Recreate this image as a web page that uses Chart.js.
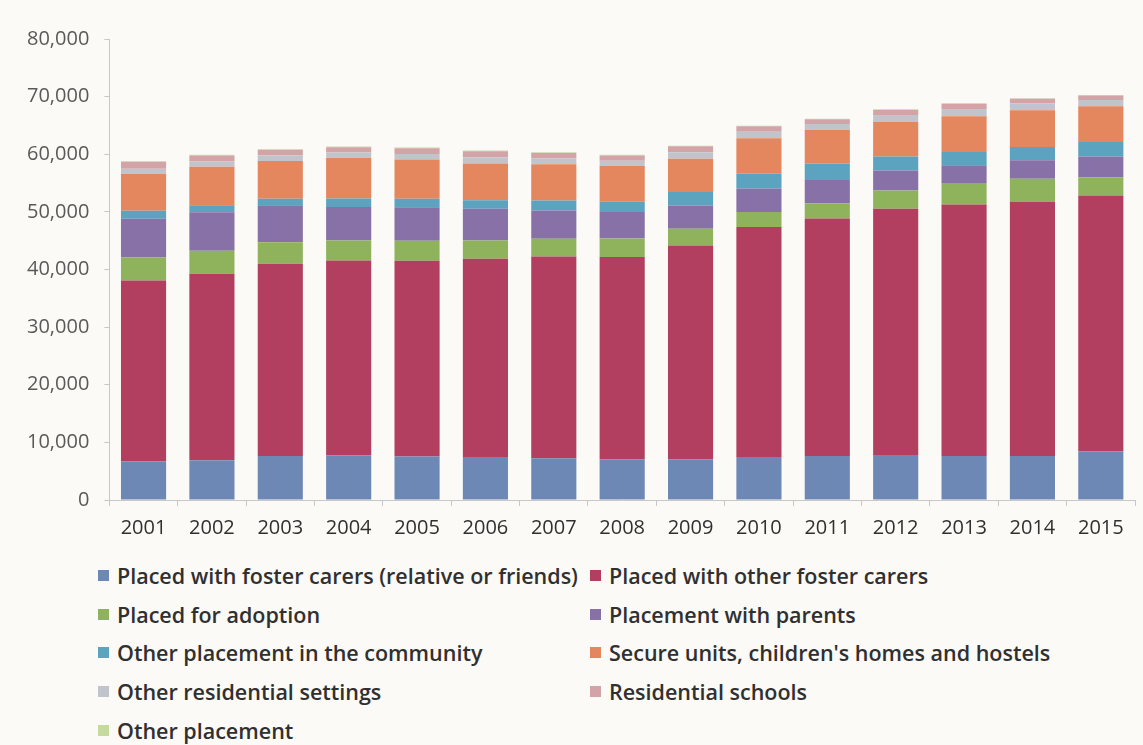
<!DOCTYPE html>
<html>
<head>
<meta charset="utf-8">
<script src="https://cdn.jsdelivr.net/npm/chart.js@4/dist/chart.umd.min.js"></script>
<style>
  body { margin: 0; background: #fbfaf6; font-family: "Open Sans", sans-serif; }
  #wrap { position: absolute; left: 0; top: 0; width: 1143px; height: 553px; }
  #legend { position: absolute; left: 98px; top: 556px; width: 1040px;
    display: grid; grid-template-columns: 492px 540px; row-gap: 0; }
  .item { height: 38.7px; display: flex; align-items: center; font-size: 21.5px;
    font-weight: 600; color: #303030; white-space: nowrap; }
  .sw { width: 11px; height: 11px; margin-right: 8px; }
</style>
</head>
<body>
<div id="wrap"><canvas id="grafico"></canvas></div>
<div id="legend"></div>
<script>
const years = ['2001','2002','2003','2004','2005','2006','2007','2008','2009','2010','2011','2012','2013','2014','2015'];

const fosterRelatives = [6700, 6900, 7650, 7770, 7530, 7480, 7250, 7070, 7070, 7480, 7650, 7830, 7650, 7650, 8400];
const fosterOther     = [31400, 32350, 33340, 33800, 34000, 34380, 35000, 35100, 37100, 39900, 41200, 42700, 43650, 44050, 44450];
const adoption        = [4000, 4000, 3760, 3480, 3480, 3190, 3080, 3200, 2900, 2610, 2610, 3180, 3600, 4070, 3180];
const withParents     = [6700, 6700, 6380, 5800, 5800, 5510, 4920, 4630, 4050, 4070, 4050, 3480, 3180, 3180, 3600];
const otherCommunity  = [1400, 1200, 1150, 1450, 1450, 1450, 1740, 1740, 2310, 2610, 2900, 2430, 2310, 2310, 2490];
const secureHomes     = [6400, 6700, 6550, 7100, 6840, 6380, 6260, 6200, 5800, 6090, 5800, 5970, 6200, 6380, 6200];
const otherResidential = [900, 900, 950, 900, 950, 1050, 1000, 950, 1100, 1150, 1050, 1200, 1250, 1150, 1100];
const residentialSchools = [1200, 1050, 1000, 930, 1000, 1100, 980, 910, 1040, 940, 810, 910, 910, 830, 760];
const otherPlacement  = [100, 100, 100, 100, 100, 100, 100, 100, 100, 100, 100, 100, 100, 100, 100];

const yTicks = [0, 10000, 20000, 30000, 40000, 50000, 60000, 70000, 80000];

const series = [
    { label: 'Placed with foster carers (relative or friends)', data: fosterRelatives, color: '#6e88b6' },
    { label: 'Placed with other foster carers', data: fosterOther, color: '#b23f5f' },
    { label: 'Placed for adoption', data: adoption, color: '#8fb35c' },
    { label: 'Placement with parents', data: withParents, color: '#8871a6' },
    { label: 'Other placement in the community', data: otherCommunity, color: '#5ba3bf' },
    { label: "Secure units, children's homes and hostels", data: secureHomes, color: '#e4865e' },
    { label: 'Other residential settings', data: otherResidential, color: '#c2c4cc' },
    { label: 'Residential schools', data: residentialSchools, color: '#d3a4a7' },
    { label: 'Other placement', data: otherPlacement, color: '#c5da9e' }
];

const data = {
    labels: years,
    datasets: series.map(s => ({
        label: s.label,
        data: s.data,
        backgroundColor: s.color,
        barPercentage: 0.66,
        categoryPercentage: 1
    }))
};

const config = {
    type: 'bar',
    data: data,
    options: {
        responsive: true,
        maintainAspectRatio: false,
        animation: false,
        layout: { padding: { top: 39, right: 8, left: 12, bottom: 3 } },
        plugins: {
            legend: { display: false },
            tooltip: { enabled: false }
        },
        scales: {
            x: {
                stacked: true,
                grid: { display: true, drawOnChartArea: false, color: '#c8c8c8', tickLength: 6, offset: true },
                border: { color: '#c8c8c8' },
                ticks: { color: '#303030', font: { family: 'Open Sans', size: 20 }, padding: 10 }
            },
            y: {
                stacked: true,
                min: 0,
                max: 80000,
                afterBuildTicks: axis => { axis.ticks = yTicks.map(v => ({ value: v })); },
                grid: { display: true, drawOnChartArea: false, color: '#c8c8c8', tickLength: 5 },
                border: { color: '#c8c8c8' },
                ticks: {
                    color: '#595959',
                    font: { family: 'Open Sans', size: 20 },
                    padding: 15,
                    callback: v => v.toLocaleString('en-US')
                }
            }
        }
    }
};

const ctx = document.getElementById('grafico').getContext('2d');
new Chart(ctx, config);

const legend = document.getElementById('legend');
series.forEach(s => {
    const div = document.createElement('div');
    div.className = 'item';
    div.innerHTML = '<span class="sw" style="background:' + s.color + '"></span>' + s.label;
    legend.appendChild(div);
});
</script>
</body>
</html>
